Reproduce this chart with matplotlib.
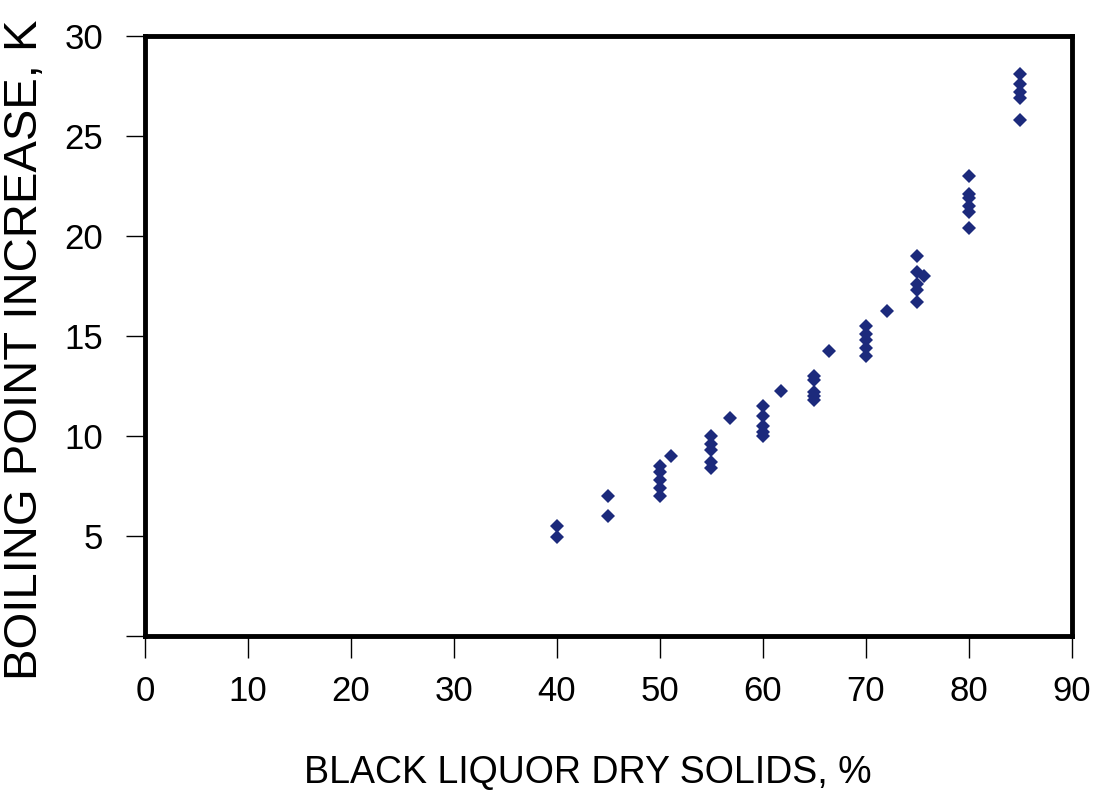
import matplotlib.pyplot as plt

# Boiling point rise of black liquor vs. dry solids content
solids = [40, 40,
          45, 45,
          50, 50, 50, 50, 50, 51.1,
          55, 55, 55, 55, 55, 56.8,
          60, 60, 60, 60, 60, 61.7,
          65, 65, 65, 65, 65, 66.4,
          70, 70, 70, 70, 70, 72,
          75, 75, 75, 75, 75, 75.6,
          80, 80, 80, 80, 80, 80,
          85, 85, 85, 85, 85]
bpr = [5.5, 4.95,
       7.0, 6.0,
       8.5, 8.2, 7.8, 7.4, 7.0, 9.0,
       10.0, 9.6, 9.3, 8.7, 8.4, 10.9,
       11.5, 11.0, 10.5, 10.2, 10.0, 12.25,
       13.0, 12.8, 12.2, 12.0, 11.8, 14.25,
       15.5, 15.1, 14.8, 14.4, 14.0, 16.25,
       19.0, 18.2, 17.6, 17.3, 16.7, 18.0,
       23.0, 22.1, 21.9, 21.5, 21.2, 20.4,
       28.1, 27.6, 27.2, 26.9, 25.8]

x_ticks = [0, 10, 20, 30, 40, 50, 60, 70, 80, 90]
y_ticks = [0, 5, 10, 15, 20, 25, 30]
y_tick_labels = ['', '5', '10', '15', '20', '25', '30']

plt.rcParams['font.family'] = 'Liberation Sans'

fig = plt.figure(figsize=(10.96, 7.93), dpi=100)
ax = fig.add_axes([0.1323, 0.198, 0.8458, 0.7566])

ax.plot(solids, bpr, linestyle='none', marker='D', markersize=7,
        color='#1c2a7c', markeredgewidth=0)

ax.set_xlim(0, 90)
ax.set_ylim(0, 30)
ax.set_xticks(x_ticks)
ax.set_yticks(y_ticks)
ax.set_yticklabels(y_tick_labels)

for s in ax.spines.values():
    s.set_linewidth(3.5)
    s.set_color('black')

ax.tick_params(axis='x', direction='out', length=16, width=1, pad=12, labelsize=25)
ax.tick_params(axis='y', direction='out', length=14, width=1, pad=16, labelsize=25)

ax.set_xlabel('BLACK LIQUOR DRY SOLIDS, %', fontsize=27)
ax.set_ylabel('BOILING POINT INCREASE, K', fontsize=34)
ax.xaxis.set_label_coords(0.478, -0.198)
ax.yaxis.set_label_coords(-0.106, 0.477)

fig.savefig('out.png', dpi=100)
